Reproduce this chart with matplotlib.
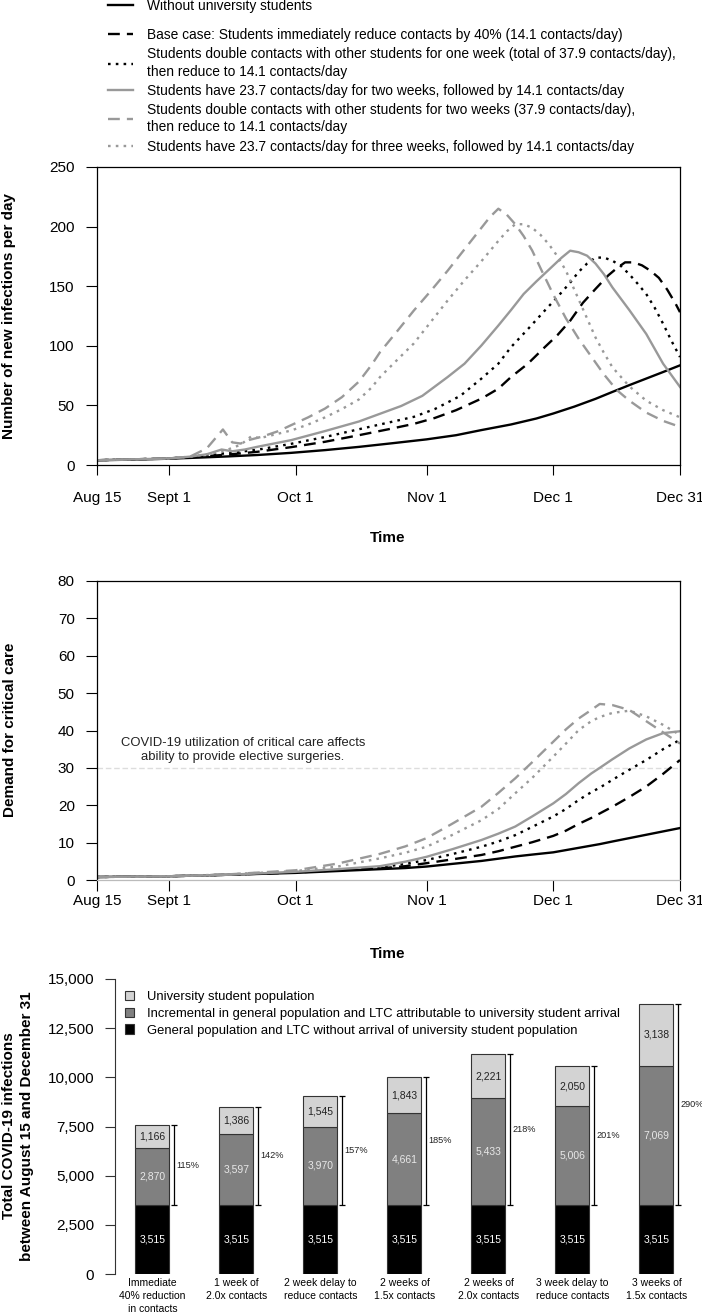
import matplotlib
matplotlib.use('Agg')
import matplotlib.pyplot as plt
from matplotlib.patches import Patch

plt.rcParams['font.family'] = ['Liberation Sans', 'DejaVu Sans']

# ---- panel 1: new infections per day (day 0 = Aug 15) ----
none_days = [0, 10, 17, 24, 31, 38, 46, 54, 62, 70, 78, 85, 91, 98, 104, 108, 113, 118, 122, 126, 130, 134, 138]
none_vals = [4, 4.6, 5.3, 6.2, 7.2, 8.4, 10.2, 12.5, 15.2, 18.3, 21.5, 25, 29.3, 34, 39, 43.2, 49, 55.5, 61.3, 67, 72.5, 78, 83.6]

base_days = [0, 17, 24, 31, 38, 46, 54, 62, 69, 75, 80, 85, 91, 95, 98, 102, 106, 109, 112, 115, 118, 121, 123,
             125, 127, 129, 131, 133, 135, 137, 138]
base_vals = [4, 5.5, 7, 8.7, 11.1, 15, 19.5, 25, 30, 34.5, 39.5, 46, 55.7, 64, 73.8, 85, 98.9, 109, 121, 136, 147.7,
             159, 165, 170, 170, 167.5, 163, 157, 147, 135, 128.2]

dbl1_days = [0, 17, 24, 31, 38, 46, 54, 62, 67, 75, 80, 86, 91, 95, 98, 102, 106, 109, 112, 114, 116, 118, 120,
             122, 124, 126, 128, 130, 132, 134, 136, 138]
dbl1_vals = [4, 5.5, 7.3, 10, 12.8, 17.8, 23.5, 30, 34, 40.4, 47, 58, 72.5, 85, 98.9, 114, 129.6, 141, 153, 162,
             169, 174, 174, 171.4, 167, 160, 152, 143.5, 132, 118.5, 104, 90.6]

g2w_days = [0, 17, 22, 26, 29.5, 32, 35, 38, 46, 54, 62, 67, 72, 77, 83, 87, 91, 95, 98, 101, 104, 107, 110, 112,
            114, 116, 118, 120, 122, 126, 130, 134, 138]
g2w_vals = [4, 5.5, 7, 9, 13, 11.5, 13, 15.3, 20.9, 28.5, 36.5, 43, 49.5, 58, 73.8, 85, 100.3, 117, 130, 143.5, 154,
            164, 174, 179.8, 178.5, 175.6, 169, 160, 149, 130, 110, 85, 65.5]

dbl2_days = [0, 17, 22, 26, 29.8, 32, 34, 36, 39, 43, 46, 50, 54, 58, 62, 65, 67, 71, 75, 79, 83, 87, 91, 93, 95,
             97, 99, 101, 103, 105, 108, 111, 114, 117, 120, 123, 126, 130, 134, 138]
dbl2_vals = [4, 5.5, 7, 14, 29.8, 19, 18, 21, 23.7, 28.5, 33.5, 40, 47.4, 57, 70, 84, 94.7, 112, 129.6, 146, 163,
             181, 199, 208, 215, 210, 202, 192, 180, 165, 143, 123, 106, 91, 76, 63, 54, 44, 37, 32]

g3w_days = [0, 17, 22, 27, 31, 34, 36.5, 38.5, 42, 46, 50, 54, 58, 62, 65, 67, 71, 75, 79, 83, 87, 91, 95, 97, 99,
            101, 103, 105, 107, 109, 111, 113, 115, 118, 120, 122, 126, 130, 134, 138]
g3w_vals = [4, 5.5, 7, 9.5, 13, 17, 24, 22.5, 25.5, 29, 34, 40, 47, 55, 65, 73.8, 88, 102, 120, 138, 155, 171, 188,
            196, 202, 202, 199, 193, 185, 175, 163, 147, 131, 107, 94, 82, 66, 54, 46, 40]

# ---- panel 2: demand for critical care ----
icu_days = [0, 17, 31, 47, 57, 67, 73, 78, 84, 91, 95, 99, 103, 108, 111, 114, 117, 119, 122, 126, 130, 134, 138]
icu_none = [0.8, 1.0, 1.4, 1.9, 2.4, 2.9, 3.2, 3.6, 4.3, 5.1, 5.7, 6.3, 6.8, 7.4, 8.0, 8.6, 9.2, 9.6, 10.3, 11.2,
            12.1, 13.0, 13.9]
icu_base = [0.8, 1.0, 1.4, 2.0, 2.6, 3.1, 3.7, 4.5, 5.5, 6.7, 7.7, 8.9, 10.1, 11.8, 13.2, 15.0, 16.6, 17.8, 19.6,
            22.2, 25.0, 28.4, 32.1]
icu_dbl1 = [0.8, 1.0, 1.4, 2.1, 2.7, 3.4, 4.3, 5.35, 6.9, 8.9, 10.3, 12, 14.2, 17, 19, 21.4, 23.5, 24.7, 26.8,
            29.5, 32.1, 35, 37.5]
icu_g2w = [0.8, 1.0, 1.4, 2.2, 2.9, 3.7, 4.9, 6.2, 8.2, 10.7, 12.4, 14.3, 17, 20.5, 23, 25.9, 28.5, 30, 32.3,
           35.2, 37.6, 39.3, 39.8]
icu_dbl2 = [0.8, 1.0, 1.5, 2.6, 4.4, 7.0, 9.0, 11.2, 15, 19.6, 23.3, 27.2, 31.5, 37, 40.3, 43.2, 45.5, 47.1,
            46.8, 45.5, 42.5, 39.5, 36.5]
icu_g3w = [0.8, 1.0, 1.5, 2.4, 3.6, 5.8, 7.3, 8.9, 12, 16, 19, 23.2, 27.3, 33, 36.5, 40.1, 42.5, 43.6, 44.7,
           45.3, 43.8, 41.5, 38.8]

date_ticks = [0, 17, 47, 78, 108, 138]
date_labels = ['Aug 15', 'Sept 1', 'Oct 1', 'Nov 1', 'Dec 1', 'Dec 31']

labels = ['Without university students',
          'Base case: Students immediately reduce contacts by 40% (14.1 contacts/day)',
          'Students double contacts with other students for one week (total of 37.9 contacts/day),\nthen reduce to 14.1 contacts/day',
          'Students have 23.7 contacts/day for two weeks, followed by 14.1 contacts/day',
          'Students double contacts with other students for two weeks (37.9 contacts/day),\nthen reduce to 14.1 contacts/day',
          'Students have 23.7 contacts/day for three weeks, followed by 14.1 contacts/day']

# ---- panel 3: total infections ----
scenarios = ['Immediate\n40% reduction\nin contacts', '1 week of\n2.0x contacts',
             '2 week delay to\nreduce contacts', '2 weeks of\n1.5x contacts',
             '2 weeks of\n2.0x contacts', '3 week delay to\nreduce contacts',
             '3 weeks of\n1.5x contacts']
general = [3515, 3515, 3515, 3515, 3515, 3515, 3515]
incremental = [2870, 3597, 3970, 4661, 5433, 5006, 7069]
students = [1166, 1386, 1545, 1843, 2221, 2050, 3138]

W, H = 702, 1312
fig = plt.figure(figsize=(W / 100, H / 100), dpi=100)


def rect(l, t, r, b):
    return [l / W, 1 - b / H, (r - l) / W, (b - t) / H]


def fx(px):
    return px / W


def fy(py):
    return 1 - py / H


GRAY = '#999999'
styles = [('black', '-'), ('black', (0, (5, 3))), ('black', (0, (1.1, 2.2))),
          (GRAY, '-'), (GRAY, (0, (5, 3))), (GRAY, (0, (1.1, 2.2)))]

# panel 1
ax1 = fig.add_axes(rect(97, 167, 680, 465))
series1 = [(none_days, none_vals), (base_days, base_vals), (dbl1_days, dbl1_vals),
           (g2w_days, g2w_vals), (dbl2_days, dbl2_vals), (g3w_days, g3w_vals)]
lines = []
for (d, v), (c, ls), lab in zip(series1, styles, labels):
    ln, = ax1.plot(d, v, color=c, linestyle=ls, lw=1.7, label=lab)
    lines.append(ln)
ax1.set_xlim(0, 138)
ax1.set_ylim(0, 250)
ax1.set_xticks(date_ticks, date_labels)
ax1.set_yticks(range(0, 251, 50))
ax1.tick_params(axis='x', length=7, pad=12, labelsize=11)
ax1.tick_params(axis='y', length=8, pad=8, labelsize=11)
for s in ax1.spines.values():
    s.set_linewidth(0.9)

# panel 2
ax2 = fig.add_axes(rect(97, 581, 680, 880))
series2 = [icu_none, icu_base, icu_dbl1, icu_g2w, icu_dbl2, icu_g3w]
ax2.axhline(30, color='#dddddd', ls=(0, (4, 2)), lw=1)
for v, (c, ls) in zip(series2, styles):
    ax2.plot(icu_days, v, color=c, linestyle=ls, lw=1.7)
ax2.set_xlim(0, 138)
ax2.set_ylim(0, 80)
ax2.set_xticks(date_ticks, date_labels)
ax2.set_yticks(range(0, 81, 10))
ax2.tick_params(axis='x', length=8, pad=2, labelsize=11)
ax2.tick_params(axis='y', length=8, pad=8, labelsize=11)
for s in ax2.spines.values():
    s.set_linewidth(0.9)
ax2.spines['bottom'].set_color('#bbbbbb')
ax2.text(34.5, 34.8, 'COVID-19 utilization of critical care affects\nability to provide elective surgeries.',
         ha='center', va='center', fontsize=9.4, color='#222222', linespacing=1.15)

# panel 3
ax3 = fig.add_axes(rect(115, 979, 702, 1274))
x = list(range(len(scenarios)))
bw = 0.405
mid_bottom = general
top_bottom = [g + i for g, i in zip(general, incremental)]
totals = [g + i + s for g, i, s in zip(general, incremental, students)]
ax3.bar(x, general, bw, color='black', edgecolor='#333333', lw=0.8)
ax3.bar(x, incremental, bw, bottom=mid_bottom, color='#808080', edgecolor='#333333', lw=0.8)
ax3.bar(x, students, bw, bottom=top_bottom, color='#d3d3d3', edgecolor='#333333', lw=0.8)
for i in x:
    ax3.text(i, general[i] / 2, f'{general[i]:,}', ha='center', va='center', color='white', fontsize=7.5)
    ax3.text(i, general[i] + incremental[i] / 2, f'{incremental[i]:,}', ha='center', va='center',
             color='#e8e8e8', fontsize=7.5)
    ax3.text(i, top_bottom[i] + students[i] / 2, f'{students[i]:,}', ha='center', va='center',
             color='#222222', fontsize=7.5)
    bx = i + 0.255
    ax3.vlines(bx, general[i], totals[i], color='black', lw=0.9)
    ax3.hlines([general[i], totals[i]], bx - 0.035, bx + 0.035, color='black', lw=0.9)
    pct = round(100 * (totals[i] - general[i]) / general[i])
    ax3.text(bx + 0.03, (general[i] + totals[i]) / 2, f'{pct}%', ha='left', va='center',
             fontsize=6.6, color='#222222')
ax3.set_xlim(-0.446, 6.542)
ax3.set_ylim(0, 15000)
ax3.set_yticks(range(0, 15001, 2500), [f'{v:,}' for v in range(0, 15001, 2500)])
ax3.set_xticks(x, scenarios)
ax3.tick_params(axis='x', length=0, pad=3, labelsize=7.5)
ax3.tick_params(axis='y', length=7, pad=8, labelsize=11, color='#333333')
for k in ['top', 'right', 'bottom']:
    ax3.spines[k].set_visible(False)
ax3.spines['left'].set_color('#333333')
for t in ax3.get_xticklabels():
    t.set_linespacing(1.35)

bar_handles = [Patch(facecolor='#d3d3d3', edgecolor='#333333', lw=0.8),
               Patch(facecolor='#808080', edgecolor='#333333', lw=0.8),
               Patch(facecolor='black', edgecolor='#333333', lw=0.8)]
bar_labels = ['University student population',
              'Incremental in general population and LTC attributable to university student arrival',
              'General population and LTC without arrival of university student population']
fig.legend(bar_handles, bar_labels, loc='upper left', bbox_to_anchor=(fx(125), fy(991)),
           frameon=False, fontsize=9.4, handlelength=0.7, handleheight=0.7,
           handletextpad=1.0, labelspacing=0.35, borderpad=0, borderaxespad=0)

# top legend
fig.legend(lines[:1], labels[:1], loc='center left', bbox_to_anchor=(fx(108), fy(6)),
           frameon=False, fontsize=9.9, handlelength=1.82, handletextpad=1.0,
           borderpad=0, borderaxespad=0)
leg = fig.legend(lines[1:], labels[1:], loc='upper left', bbox_to_anchor=(fx(108), fy(28)),
                 frameon=False, fontsize=9.9, handlelength=1.82, handletextpad=1.0,
                 labelspacing=0.38, borderpad=0, borderaxespad=0)
for t in leg.get_texts():
    t.set_linespacing(1.3)

# axis titles
fig.text(fx(388), fy(538), 'Time', ha='center', va='center', fontsize=11, fontweight='bold')
fig.text(fx(388), fy(954), 'Time', ha='center', va='center', fontsize=11, fontweight='bold')
fig.text(fx(9), fy(316), 'Number of new infections per day', rotation=90, ha='center', va='center',
         fontsize=11, fontweight='bold')
fig.text(fx(10), fy(730), 'Demand for critical care', rotation=90, ha='center', va='center',
         fontsize=11, fontweight='bold')
fig.text(fx(18), fy(1126), 'Total COVID-19 infections\nbetween August 15 and December 31', rotation=90,
         ha='center', va='center', fontsize=11, fontweight='bold', linespacing=1.3)

fig.savefig('out.png', dpi=100)
